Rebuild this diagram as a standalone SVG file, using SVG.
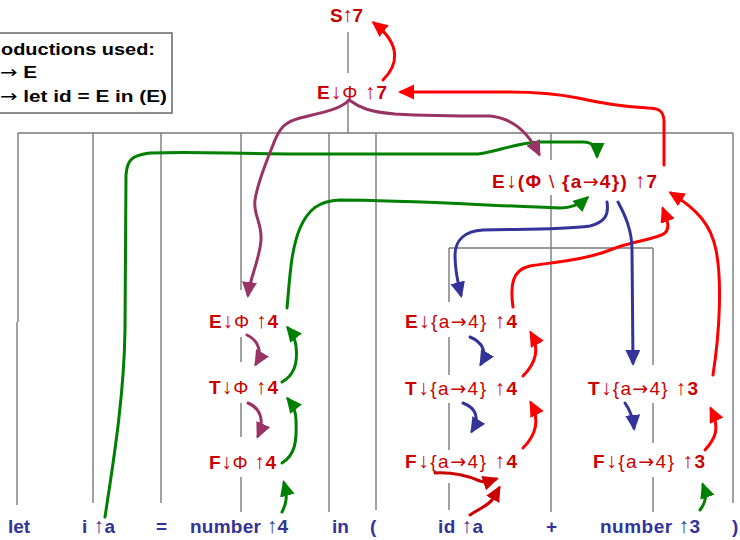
<svg xmlns="http://www.w3.org/2000/svg" width="740" height="540" viewBox="0 0 740 540">
<style>
.tree{fill:none;stroke:#7a7a7a;stroke-width:1.4}
.n{font-family:"Liberation Sans",Arial,sans-serif;font-size:19px;font-weight:bold;fill:#cc0000}
.t{font-family:"Liberation Sans",Arial,sans-serif;font-size:19px;font-weight:bold;fill:#333399}
.l{font-weight:normal}
.ud{font-weight:normal;font-size:21px}
.ar{font-family:"DejaVu Sans",sans-serif;font-weight:normal}
.box{font-family:"Liberation Sans",Arial,sans-serif;font-size:17px;font-weight:bold;fill:#000}
.a{fill:none;stroke-width:3;stroke-linecap:round}
.red{stroke:#ff0000;marker-end:url(#mr)}
.dred{stroke:#cc0000;marker-end:url(#md)}
.grn{stroke:#008000;marker-end:url(#mg)}
.pur{stroke:#993366;marker-end:url(#mp)}
.blu{stroke:#333399;marker-end:url(#mb)}
</style>
<defs>
<marker id="mr" markerUnits="userSpaceOnUse" markerWidth="18" markerHeight="16" refX="13" refY="7.5" orient="auto"><path d="M0,0 L16,7.5 L0,15 z" fill="#ff0000"/></marker>
<marker id="md" markerUnits="userSpaceOnUse" markerWidth="18" markerHeight="16" refX="13" refY="7.5" orient="auto"><path d="M0,0 L16,7.5 L0,15 z" fill="#cc0000"/></marker>
<marker id="mg" markerUnits="userSpaceOnUse" markerWidth="18" markerHeight="16" refX="13" refY="7.5" orient="auto"><path d="M0,0 L16,7.5 L0,15 z" fill="#008000"/></marker>
<marker id="mp" markerUnits="userSpaceOnUse" markerWidth="18" markerHeight="16" refX="13" refY="7.5" orient="auto"><path d="M0,0 L16,7.5 L0,15 z" fill="#993366"/></marker>
<marker id="mb" markerUnits="userSpaceOnUse" markerWidth="18" markerHeight="16" refX="13" refY="7.5" orient="auto"><path d="M0,0 L16,7.5 L0,15 z" fill="#333399"/></marker>
</defs>
<rect width="740" height="540" fill="#ffffff"/>

<g id="productions">
<rect x="-2" y="33" width="174" height="80" fill="#ffffff" stroke="#666666" stroke-width="1.5"/>
<text class="box" x="1" y="55" textLength="154" lengthAdjust="spacingAndGlyphs">oductions used:</text>
<text class="box" x="0" y="78" textLength="37" lengthAdjust="spacingAndGlyphs"><tspan class="ar">→</tspan> E</text>
<text class="box" x="0" y="102" textLength="167" lengthAdjust="spacingAndGlyphs"><tspan class="ar">→</tspan> let id = E in (E)</text>
</g>

<g id="tree-lines" class="tree">
<path d="M348,32 V73"/>
<path d="M348,100 V133 M18,133 H733"/>
<path d="M18,133 V322 M17,322 V505"/>
<path d="M93,133 V503 M161,133 V503 M329,133 V512 M376,133 V510 M733,133 V503"/>
<path d="M241,133 V290 M241,337 V362 M241,403 V437 M241,477 V512"/>
<path d="M551,133 V160 M551,195 V512"/>
<path d="M449,248 H653"/>
<path d="M449,248 V302 M449,337 V375 M449,403 V450 M449,483 V510"/>
<path d="M653,248 V365 M653,403 V443 M653,477 V512"/>
</g>

<g id="S7"><text class="n" x="330" y="22" textLength="33">S<tspan class="ud">↑</tspan>7</text></g>
<g id="E7"><text class="n" x="317" y="99" textLength="70">E<tspan class="ud">↓</tspan><tspan class="l">Φ </tspan><tspan class="ud">↑</tspan>7</text></g>
<g id="E7b"><text class="n" x="492" y="188" textLength="165">E<tspan class="ud">↓</tspan>(Φ <tspan class="l">\</tspan> {a<tspan class="ar">→</tspan>4}) <tspan class="ud">↑</tspan>7</text></g>
<g id="E4"><text class="n" x="209" y="328" textLength="69">E<tspan class="ud">↓</tspan><tspan class="l">Φ </tspan><tspan class="ud">↑</tspan>4</text></g>
<g id="T4"><text class="n" x="209" y="394" textLength="69">T<tspan class="ud">↓</tspan><tspan class="l">Φ </tspan><tspan class="ud">↑</tspan>4</text></g>
<g id="F4"><text class="n" x="209" y="469" textLength="67">F<tspan class="ud">↓</tspan><tspan class="l">Φ </tspan><tspan class="ud">↑</tspan>4</text></g>
<g id="E4b"><text class="n" x="405" y="328" textLength="112">E<tspan class="ud">↓</tspan><tspan class="l">{a</tspan><tspan class="ar">→</tspan><tspan class="l">4} </tspan><tspan class="ud">↑</tspan>4</text></g>
<g id="T4b"><text class="n" x="405" y="395" textLength="112">T<tspan class="ud">↓</tspan><tspan class="l">{a</tspan><tspan class="ar">→</tspan><tspan class="l">4} </tspan><tspan class="ud">↑</tspan>4</text></g>
<g id="F4b"><text class="n" x="405" y="468" textLength="112">F<tspan class="ud">↓</tspan><tspan class="l">{a</tspan><tspan class="ar">→</tspan><tspan class="l">4} </tspan><tspan class="ud">↑</tspan>4</text></g>
<g id="T3"><text class="n" x="588" y="395" textLength="110">T<tspan class="ud">↓</tspan><tspan class="l">{a</tspan><tspan class="ar">→</tspan><tspan class="l">4} </tspan><tspan class="ud">↑</tspan>3</text></g>
<g id="F3"><text class="n" x="593" y="468" textLength="112">F<tspan class="ud">↓</tspan><tspan class="l">{a</tspan><tspan class="ar">→</tspan><tspan class="l">4} </tspan><tspan class="ud">↑</tspan>3</text></g>

<g id="tok-let"><text class="t" x="8" y="533" textLength="22">let</text></g>
<g id="tok-i"><text class="t" x="82" y="533" textLength="33">i <tspan class="ud">↑</tspan>a</text></g>
<g id="tok-eq"><text class="t" x="156" y="533">=</text></g>
<g id="tok-num4"><text class="t" x="190" y="533" textLength="98">number <tspan class="ud">↑</tspan>4</text></g>
<g id="tok-in"><text class="t" x="332" y="533">in</text></g>
<g id="tok-lp"><text class="t" x="370" y="533">(</text></g>
<g id="tok-id"><text class="t" x="438" y="533" textLength="45">id <tspan class="ud">↑</tspan>a</text></g>
<g id="tok-plus"><text class="t" x="546" y="533">+</text></g>
<g id="tok-num3"><text class="t" x="600" y="533" textLength="100">number <tspan class="ud">↑</tspan>3</text></g>
<g id="tok-rp"><text class="t" x="732" y="533">)</text></g>

<g id="connectors">
<path class="a red" d="M383,80 C398,65 402,45 374,23"/>
<path class="a red" d="M664,165 V122 C664,112 660,108 648,108 C625,107 600,103 578,98 C558,94 540,92 510,92 H401"/>
<path class="a red" d="M713,375 C720,330 722,280 716,250 C711,225 698,210 671,193"/>
<path class="a red" d="M513,307 C510,285 512,270 530,266 C555,262 585,260 610,250 C635,240 655,240 665,233 C670,228 668,222 663,209"/>
<path class="a red" d="M523,376 C536,363 540,349 531,333"/>
<path class="a red" d="M523,448 C536,435 540,420 531,403"/>
<path class="a red" d="M705,450 C716,438 720,428 711,409"/>
<path class="a dred" d="M435,473 C455,472 468,476 480,481 C486,483 490,481 496,479"/>
<path class="a dred" d="M470,515 C480,508 490,505 494,497 L499,488"/>
<path class="a grn" d="M105,517 C112,470 124,400 125,330 L126,175 C127,160 132,155 150,153 C200,151 230,154 300,154 L478,154 C500,151 515,143 540,142 L583,142 C592,142 597,147 597,156"/>
<path class="a grn" d="M287,308 C290,275 291,250 300,228 C308,210 318,201 340,200 C400,200 480,205 560,208 C570,208 578,206 587,198"/>
<path class="a grn" d="M282,382 C295,375 298,362 296,346 C295,338 292,333 288,328"/>
<path class="a grn" d="M282,463 C295,455 297,442 296,420 C296,410 292,404 288,399"/>
<path class="a grn" d="M282,512 C286,504 288,498 284,483"/>
<path class="a grn" d="M700,510 C706,502 707,496 703,485"/>
<path class="a pur" d="M349,100 C340,110 320,113 300,118 C285,122 280,128 275,140 C268,158 258,180 255,200 C253,215 262,222 261,240 C260,258 250,278 248,295"/>
<path class="a pur" d="M349,100 C360,108 370,112 395,114 C430,116 470,116 490,116 C512,118 528,132 539,154"/>
<path class="a pur" d="M247,335 C258,340 263,352 256,364"/>
<path class="a pur" d="M248,403 C260,408 265,420 258,436"/>
<path class="a blu" d="M607,202 C609,215 605,222 590,226 C560,230 520,229 483,230 C465,231 455,240 455,255 C455,270 457,280 461,295"/>
<path class="a blu" d="M618,202 C625,215 632,230 632,250 L633,363"/>
<path class="a blu" d="M470,337 C482,342 488,352 481,364"/>
<path class="a blu" d="M463,403 C476,408 480,418 472,431"/>
<path class="a blu" d="M625,403 C630,410 633,418 634,428"/>
</g>
</svg>
